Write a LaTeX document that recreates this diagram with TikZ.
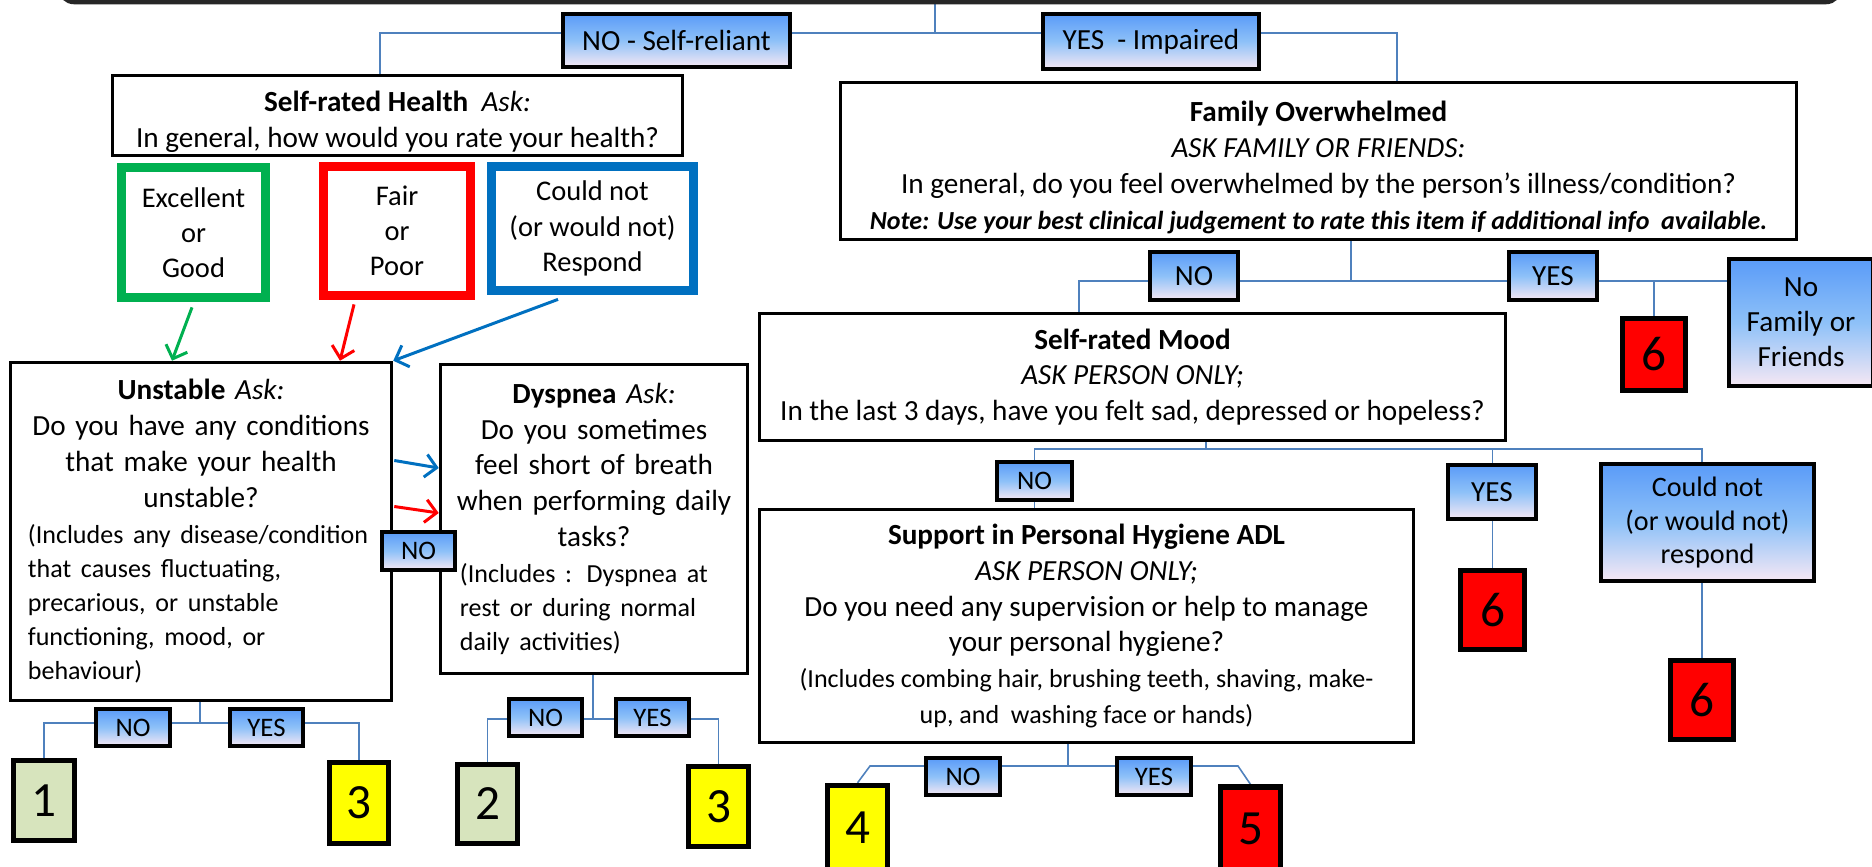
\documentclass[tikz,border=0pt]{standalone}
\usepackage{fontspec}
\setmainfont{Carlito}
\usetikzlibrary{arrows.meta,calc,backgrounds}

\definecolor{wireblue}{HTML}{4F81BD}
\definecolor{optgreen}{HTML}{00B050}
\definecolor{optred}{HTML}{FF0000}
\definecolor{optblue}{HTML}{0070C0}
\definecolor{ansblue}{HTML}{5A9BF8}
\definecolor{ansmid}{HTML}{8EC1F8}
\definecolor{anspale}{HTML}{F6E8F4}
\definecolor{lowgreen}{HTML}{D7E4BD}
\definecolor{midyellow}{HTML}{FFFF00}
\definecolor{highred}{HTML}{FF0000}

\tikzset{
  sz/.style 2 args={minimum width=#1*0.01cm, minimum height=#2*0.01cm},
  qtext/.style={inner sep=0pt, align=center, font=\fontsize{8.3}{10.2}\selectfont},
  qbox/.style={qtext, draw=black, line width=1pt, fill=white},
  ansbox/.style={draw=black, line width=1.2pt, top color=ansblue, bottom color=anspale,
    middle color=ansmid, inner sep=0pt, align=center, font=\fontsize{8.3}{10}\selectfont},
  smallans/.style={ansbox, font=\fontsize{7.6}{9}\selectfont},
  choicebox/.style={draw=#1, line width=2.5pt, fill=white, inner sep=0pt, align=center,
    font=\fontsize{8.1}{10}\selectfont},
  scorebox/.style={draw=black, line width=1.5pt, fill=#1, inner sep=0pt,
    font=\fontsize{14}{16}\selectfont},
  wire/.style={draw=wireblue, line width=0.45pt},
  pick/.style={draw=#1, line width=0.85pt, -{Straight Barb[length=3.2pt,width=6.5pt]}}
}
% left-set lines under a centred question
\newcommand{\sidenote}[3]{\begin{minipage}[t]{#1}\raggedright\leftskip=#2
  \fontsize{7.4}{9.7}\selectfont #3\end{minipage}}

\begin{document}
\begin{tikzpicture}[x=0.01cm, y=-0.01cm]
  \useasboundingbox (0,0) rectangle (1872,867);

  % banner (cut off by the page top)
  \node[draw=black!85, line width=1.3pt, rounded corners=4pt, sz={1780}{80}] (banner) at (950,-38) {};

  \node[ansbox, sz={227}{53}] (noself) at (676.5,40.5) {NO - Self-reliant};
  \node[ansbox, sz={216}{55}] (yesimp) at (1151,41.5) {YES\ \ - Impaired};

  % left branch
  \node[qbox, sz={570}{80}] (srh) at (397.5,115.5) {};
  \node[qtext] (srhtext) at ($(srh.center)+(0,6.5)$)
    {\textbf{Self-rated Health}\ \ \textit{Ask:}\\In general, how would you rate your health?};
  \node[choicebox=optgreen, sz={144}{130}] (good) at (193.5,232.5) {Excellent\\or\\Good};
  \node[choicebox=optred, sz={147}{129}] (poor) at (397,231) {Fair\\or\\Poor};
  \node[choicebox=optblue, sz={202}{124}] (mute) at (592.5,228.5) {Could not\\(or would not)\\Respond};

  \node[qbox, sz={381}{338}, text width=3.64cm] (unst) at (201,531.5)
    {\textbf{Unstable} \textit{Ask:}\\
     Do you have any conditions\\
     that make your health\\
     unstable?\\
     \sidenote{3.64cm}{0.09cm}{(Includes any disease/condition\\
       that causes fluctuating,\\
       precarious, or unstable\\
       functioning, mood, or\\
       behaviour)}};
  \node[qbox, sz={307}{309}, text width=2.96cm] (dysp) at (594,519)
    {\textbf{Dyspnea} \textit{Ask:}\\
     Do you sometimes\\
     feel short of breath\\
     when performing daily\\
     tasks?\\
     \sidenote{2.96cm}{0.14cm}{(Includes : Dyspnea at\\
       rest or during normal\\
       daily activities)}};

  % right branch
  \node[qbox, sz={956}{157}] (fo) at (1318.5,161)
    {\rule{0pt}{9.5pt}\textbf{Family Overwhelmed}\\
     \textit{ASK FAMILY OR FRIENDS:}\\
     In general, do you feel overwhelmed by the person’s illness/condition?\\
     {\fontsize{7.4}{9.4}\selectfont\bfseries\itshape Note: Use your best clinical judgement to rate this item if additional info\ \ available.}};
  \node[ansbox, sz={88}{48}] (no3) at (1194,276) {NO};
  \node[ansbox, sz={88}{48}] (yes3) at (1553,276) {YES};
  \node[ansbox, sz={144}{127}] (nofam) at (1801,322.5) {No\\Family or\\Friends};

  \node[qbox, sz={746}{127}] (srm) at (1132.5,377)
    {\textbf{Self-rated Mood}\\
     \textit{ASK PERSON ONLY;}\\
     In the last 3 days, have you felt sad, depressed or hopeless?};
  \node[ansbox, sz={88}{54}] (yes4) at (1492,492) {YES};
  \node[ansbox, font=\fontsize{8}{9.6}\selectfont, sz={213}{117}] (could2) at (1707.5,522.5)
    {Could not\\(or would not)\\respond};

  \node[qbox, sz={654}{233}] (hyg) at (1086.5,626)
    {\textbf{Support in Personal Hygiene ADL}\\
     \textit{ASK PERSON ONLY;}\\
     Do you need any supervision or help to manage\\
     your personal hygiene?\\
     {\fontsize{7.4}{9.4}\selectfont(Includes combing hair, brushing teeth, shaving, make-}\\
     {\fontsize{7.4}{9.4}\selectfont up, and\ \ washing face or hands)}};

  % small answer boxes
  \foreach \n/\x/\y/\w/\h/\t in {
      no1/133/727.5/74/37/NO, yes1/266.5/727.5/73/37/YES,
      no2/545.5/717.5/73/37/NO, yes2/652.5/717.5/73/37/YES,
      nomid/418.5/551/73/38/NO, no4/1034.5/481/75/38/NO,
      no5/963/776.5/74/37/NO, yes5/1154/776.5/74/37/YES} {
    \node[smallans, sz={\w}{\h}] (\n) at (\x,\y) {\t};
  }

  % scores
  \foreach \n/\x/\y/\w/\h/\c/\d in {
      s1/44/800.5/61/80/lowgreen/1, s3a/359/803/59/81/midyellow/3,
      s2/487.5/804/60/79/lowgreen/2, s3b/718.5/806.5/60/80/midyellow/3,
      s4/857.5/828/60/85/midyellow/4, s5/1250.5/829/60/84/highred/5,
      s6a/1654/354.5/63/72/highred/6, s6b/1492.5/610/64/79/highred/6,
      s6c/1702/700/63/79/highred/6} {
    \node[scorebox=\c, sz={\w}{\h}] (\n) at (\x,\y) {\d};
  }

  % connectors
  \begin{scope}[on background layer]
    \coordinate (hub) at (935,33);
    \draw[wire] (banner.south -| hub) -- (hub);
    \draw[wire] (hub) -| ($(srh.north)+(-17.5,0)$);
    \draw[wire] (hub) -| ($(fo.north)+(78.5,0)$);

    \coordinate (foj) at (1351,281);
    \draw[wire] (fo.south -| foj) -- (foj);
    \draw[wire] (foj) -| ($(srm.north)+(-53.5,0)$);
    \draw[wire] (foj) -- (nofam.west |- foj);
    \draw[wire] (s6a.north) -- (s6a.north |- foj);

    \coordinate (srmj) at (1206,449);
    \draw[wire] (srm.south -| srmj) -- (srmj);
    \draw[wire] (srmj) -| (hyg.north -| no4);
    \draw[wire] (srmj) -| (s6b.north);
    \draw[wire] (srmj) -| (s6c.north);

    \coordinate (hygj) at (1068,766);
    \coordinate (hygl) at (870,766);
    \coordinate (hygr) at (1238,766);
    \draw[wire] (hyg.south -| hygj) -- (hygj);
    \draw[wire] (hygj) -- (hygl) -- (s4.north);
    \draw[wire] (hygj) -- (hygr) -- (s5.north);

    \coordinate (unj) at (200,723);
    \draw[wire] (unst.south -| unj) -- (unj);
    \draw[wire] (unj) -| (s1.north);
    \draw[wire] (unj) -| (s3a.north);

    \coordinate (dyj) at (593,719);
    \draw[wire] (dysp.south -| dyj) -- (dyj);
    \draw[wire] (dyj) -| (s2.north);
    \draw[wire] (dyj) -| (s3b.north);
  \end{scope}

  % answer arrows
  \draw[pick=optgreen] ($(good.south)+(-1.5,5.5)$) -- ($(unst.north)+(-29,0)$);
  \draw[pick=optred] ($(poor.south)+(-43,4.5)$) -- ($(unst.north)+(139,0)$);
  \draw[pick=optblue] ($(mute.south)+(-34.5,4.5)$) -- (unst.north east);
  \draw[pick=optblue] ($(unst.east)+(1,-71)$) -- ($(dysp.west)+(0,-51)$);
  \draw[pick=optred] ($(unst.east)+(1,-25)$) -- ($(dysp.west)+(0,-6)$);
\end{tikzpicture}
\end{document}
